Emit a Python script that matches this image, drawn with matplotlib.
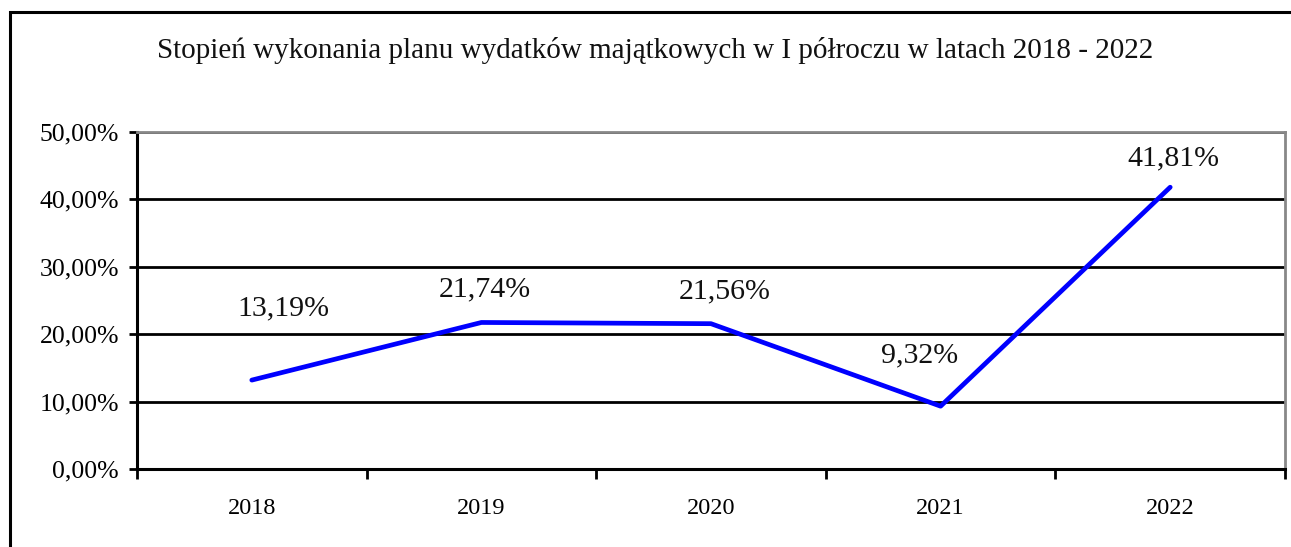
import matplotlib.pyplot as plt
from matplotlib.patches import Rectangle
from matplotlib.ticker import FuncFormatter

# dane -------------------------------------------------------------------

lata      = ["2018", "2019", "2020", "2021", "2022"]
wykonanie = [13.19, 21.74, 21.56, 9.32, 41.81]
etykiety  = ["13,19%", "21,74%", "21,56%", "9,32%", "41,81%"]

# przesunięcia etykiet (px) jak w oryginale
przes = [(32, 72), (3, 33), (14, 32), (-21, 51), (3, 29)]

plt.rcParams["font.family"] = ["Liberation Serif", "DejaVu Serif"]

fig = plt.figure(figsize=(12.91, 5.47), dpi=100)
W, H = 1291, 547

# ramka zewnętrzna
fig.patches.append(Rectangle((10 / W, -0.1), 1.2, 1 - 12 / H + 0.1,
                             transform=fig.transFigure, fill=False,
                             edgecolor="black", linewidth=2.2))

ax = fig.add_axes([137 / W, 1 - 469 / H, (1285 - 137) / W, (469 - 132) / H])

x = list(range(len(lata)))
ax.plot(x, wykonanie, color="#0000ff", linewidth=3.4, solid_capstyle="round", zorder=3)

for xi, yi, lab, (dx, dy) in zip(x, wykonanie, etykiety, przes):
    ax.annotate(lab, (xi, yi), xytext=(dx * 0.72, dy * 0.72), textcoords="offset points",
                ha="center", va="center", fontsize=21.5, color="#111111")

ax.set_xlim(-0.5, len(lata) - 0.5)
ax.set_ylim(0, 50)
ax.set_yticks([0, 10, 20, 30, 40, 50])
ax.yaxis.set_major_formatter(FuncFormatter(lambda v, p: f"{v:.2f}%".replace(".", ",")))
ax.grid(axis="y", color="black", linewidth=2.0)
ax.set_axisbelow(True)

ax.set_xticks([i - 0.5 for i in range(len(lata) + 1)])
ax.set_xticklabels([])
ax.set_xticks(x, minor=True)
ax.set_xticklabels(lata, minor=True, fontsize=17.5)
ax.tick_params(axis="x", which="minor", length=0, pad=21)
ax.tick_params(axis="x", which="major", length=7, width=2, direction="out")
ax.tick_params(axis="y", length=6, width=2, direction="out", labelsize=18.5, pad=7)

for s in ["left", "bottom"]:
    ax.spines[s].set_color("black")
    ax.spines[s].set_linewidth(2.2)
for s in ["top", "right"]:
    ax.spines[s].set_color("#888888")
    ax.spines[s].set_linewidth(2.0)

fig.text(655 / W, 1 - 50 / H,
         "Stopień wykonania planu wydatków majątkowych w I półroczu w latach 2018 - 2022",
         ha="center", va="center", fontsize=21, color="#111111")

fig.savefig("out.png", dpi=100)
